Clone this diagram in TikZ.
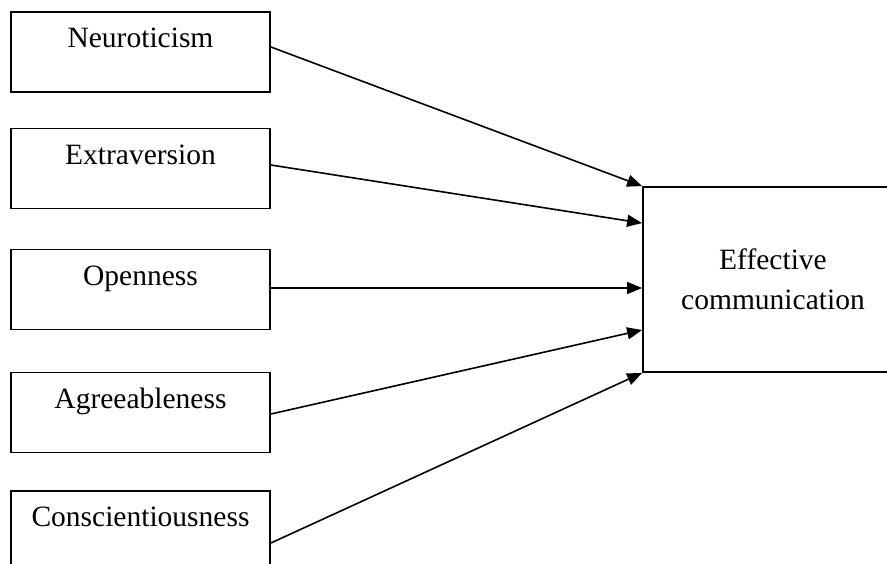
\documentclass[tikz,border=0pt]{standalone}
\usepackage{fontspec}
\setmainfont{Liberation Serif}
\usetikzlibrary{arrows.meta}

\begin{document}
\begin{tikzpicture}[x=0.5bp,y=-0.5bp,
        trait/.style={rectangle,draw,line width=0.9bp,inner sep=0pt,minimum width=129.5bp,
            text height=18bp,text depth=22bp,font=\fontsize{14.75bp}{20bp}\selectfont},
        outcome/.style={rectangle,draw,line width=0.9bp,inner sep=0pt,minimum width=130bp,
            minimum height=92.5bp,align=center,font=\fontsize{14.75bp}{20bp}\selectfont},
        link/.style={-{Triangle[length=7.5bp,width=6bp]},line width=0.8bp}]
        \useasboundingbox (0,0) rectangle (887,564);
        \clip (0,0) rectangle (887,564);
        \node (neu) [trait] at (140.5,52) {Neuroticism};
        \node (ext) [trait] at (140.5,168.5) {Extraversion};
        \node (ope) [trait] at (140.5,289.5) {Openness};
        \node (agr) [trait] at (140.5,412.5) {Agreeableness};
        \node (con) [trait] at (140.5,531) {Conscientiousness};
        \node (eff) [outcome] at (773,279.5) {Effective\\communication};
        \draw [link] ([yshift=2.5bp]neu.east) -- (eff.north west);
        \draw [link] ([yshift=1.75bp]ext.east) -- ([yshift=-18.5bp]eff.north west);
        \draw [link] ([yshift=0.75bp]ope.east) -- ([yshift=-4.25bp]eff.west);
        \draw [link] ([yshift=-0.75bp]agr.east) -- ([yshift=-25.25bp]eff.west);
        \draw [link] ([yshift=-6bp]con.east) -- (eff.south west);
    \end{tikzpicture}
\end{document}
